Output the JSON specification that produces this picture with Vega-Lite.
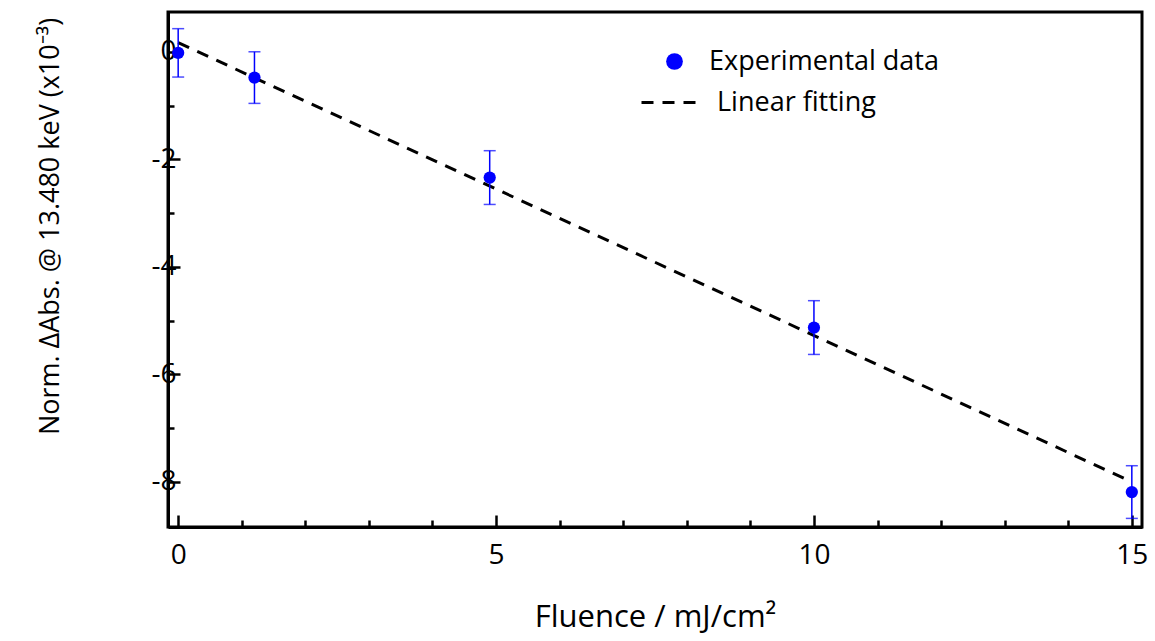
{
  "$schema": "https://vega.github.io/schema/vega-lite/v6.json",
  "width": 974,
  "height": 515,
  "autosize": {"type": "none"},
  "padding": {"left": 168, "top": 12, "right": 13, "bottom": 114},
  "background": "white",
  "config": {
    "font": "Open Sans",
    "view": {"stroke": "black", "strokeWidth": 3},
    "axis": {
      "domainColor": "black",
      "domainWidth": 3,
      "tickColor": "black",
      "tickWidth": 2.5,
      "labelFont": "Open Sans",
      "labelFontSize": 28,
      "labelColor": "black",
      "titleFont": "Open Sans",
      "titleFontSize": 30,
      "titleFontWeight": "normal",
      "titleColor": "black",
      "grid": false
    },
    "legend": {
      "labelFont": "Open Sans",
      "labelFontSize": 27,
      "labelColor": "black",
      "labelLimit": 500,
      "padding": 0
    }
  },
  "datasets": {
    "pts": [
      {"fluence": 0, "value": -0.02, "err": 0.45, "series": "Experimental data"},
      {"fluence": 1.2, "value": -0.48, "err": 0.48, "series": "Experimental data"},
      {"fluence": 4.9, "value": -2.34, "err": 0.5, "series": "Experimental data"},
      {"fluence": 10, "value": -5.13, "err": 0.5, "series": "Experimental data"},
      {"fluence": 15, "value": -8.19, "err": 0.49, "series": "Experimental data"}
    ],
    "fit": [
      {"fluence": 0, "value": 0.17, "series": "Linear fitting"},
      {"fluence": 15, "value": -8.0, "series": "Linear fitting"}
    ]
  },
  "encoding": {
    "x": {
      "field": "fluence",
      "type": "quantitative",
      "scale": {"domain": [-0.16, 15.16], "nice": false, "zero": false},
      "axis": {
        "title": "Fluence / mJ/cm²",
        "values": [0,1,2,3,4,5,6,7,8,9,10,11,12,13,14,15],
        "labelExpr": "datum.value % 5 === 0 ? datum.label : ''",
        "tickSize": {"condition": {"test": "datum.value % 5 === 0", "value": -12}, "value": -7},
        "labelPadding": 26,
        "titleFontSize": 31,
        "titlePadding": 33,
        "labelFlush": false,
        "encode": {"labels": {"update": {"fontSize": {"value": 29}}}}
      }
    },
    "y": {
      "field": "value",
      "type": "quantitative",
      "scale": {"domain": [-8.84, 0.74], "nice": false, "zero": false},
      "axis": {
        "title": "Norm. ΔAbs. @ 13.480 keV (x10⁻³)",
        "values": [-8,-7,-6,-5,-4,-3,-2,-1,0],
        "labelExpr": "datum.value % 2 === 0 ? ('' + datum.value) : ''",
        "tickSize": {"condition": {"test": "datum.value % 2 === 0", "value": -12}, "value": -6},
        "labelPadding": 4,
        "titleFontSize": 27,
        "titleBaseline": "middle",
        "titleX": -118,
        "titleY": 214,
        "labelFlush": false,
        "encode": {"labels": {"update": {"fontSize": {"value": 29}}}}
      }
    }
  },
  "layer": [
    {
      "data": {"name": "fit"},
      "mark": {"type": "line", "color": "black", "strokeWidth": 3},
      "encoding": {
        "strokeDash": {
          "field": "series",
          "type": "nominal",
          "scale": {"domain": ["Linear fitting"], "range": [[12, 9]]},
          "legend": {
            "title": null,
            "orient": "none",
            "legendX": 472,
            "legendY": 58,
            "symbolType": "stroke",
            "symbolSize": 3844,
            "symbolStrokeColor": "black",
            "symbolStrokeWidth": 3,
            "labelOffset": 12
          }
        }
      }
    },
    {
      "data": {"name": "pts"},
      "mark": {"type": "errorbar", "ticks": {"size": 12, "color": "blue", "strokeWidth": 1.5}, "color": "blue", "thickness": 1.5},
      "encoding": {
        "yError": {"field": "err"}
      }
    },
    {
      "data": {"name": "pts"},
      "mark": {"type": "point", "filled": true, "size": 150, "opacity": 1},
      "encoding": {
        "color": {
          "field": "series",
          "type": "nominal",
          "scale": {"domain": ["Experimental data"], "range": ["#0000ff"]},
          "legend": {
            "title": null,
            "orient": "none",
            "legendX": 493,
            "legendY": 36,
            "symbolType": "circle",
            "symbolSize": 280,
            "symbolOpacity": 1,
            "labelOffset": 21
          }
        }
      }
    }
  ]
}
